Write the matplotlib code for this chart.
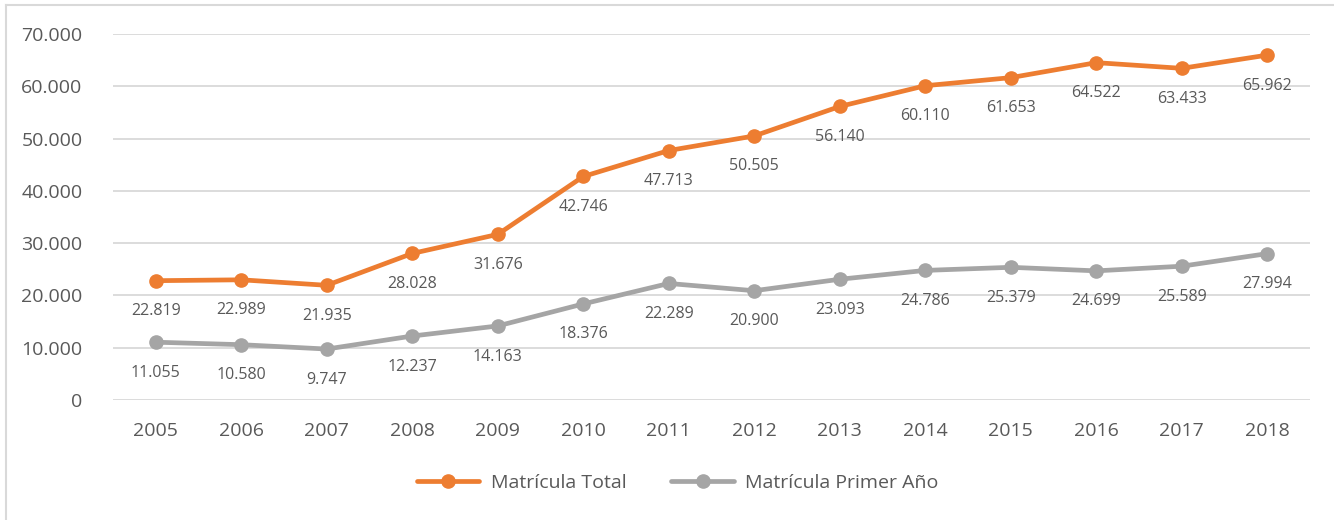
import matplotlib.pyplot as plt
from matplotlib.lines import Line2D
from matplotlib.ticker import FuncFormatter

years = ['2005', '2006', '2007', '2008', '2009', '2010', '2011',
         '2012', '2013', '2014', '2015', '2016', '2017', '2018']
total = [22819, 22989, 21935, 28028, 31676, 42746, 47713,
         50505, 56140, 60110, 61653, 64522, 63433, 65962]
primer = [11055, 10580, 9747, 12237, 14163, 18376, 22289,
          20900, 23093, 24786, 25379, 24699, 25589, 27994]
y_ticks = [0, 10000, 20000, 30000, 40000, 50000, 60000, 70000]

orange = '#ED7D31'
gray = '#A5A5A5'
txt = '#595959'

plt.rcParams['font.family'] = ['Open Sans', 'DejaVu Sans']

def fmt(v):
    return f'{int(v):,}'.replace(',', '.')

fig = plt.figure(figsize=(13.34, 5.2), dpi=100)
ax = fig.add_axes([113 / 1334, 1 - 400 / 520, (1310 - 113) / 1334, (400 - 34) / 520])

x = list(range(len(years)))
ax.plot(x, total, color=orange, lw=3.4, marker='o', ms=9.5, label='Matrícula Total',
        solid_capstyle='round')
ax.plot(x, primer, color=gray, lw=3.4, marker='o', ms=9.5, label='Matrícula Primer Año',
        solid_capstyle='round')

for xi, v in zip(x, total):
    ax.annotate(fmt(v), (xi, v), xytext=(0, -22), textcoords='offset points',
                ha='center', va='center', fontsize=11.5, color=txt)
for xi, v in zip(x, primer):
    ax.annotate(fmt(v), (xi, v), xytext=(0, -22), textcoords='offset points',
                ha='center', va='center', fontsize=11.5, color=txt)

ax.set_xlim(-0.5, len(years) - 0.5)
ax.set_ylim(0, 70000)
ax.set_yticks(y_ticks)
ax.yaxis.set_major_formatter(FuncFormatter(lambda v, p: fmt(v)))
ax.set_xticks(x)
ax.set_xticklabels(years)
ax.tick_params(axis='both', length=0, labelsize=14, colors=txt)
ax.tick_params(axis='x', pad=16)
ax.tick_params(axis='y', pad=22)
ax.grid(axis='y', color='#D9D9D9', lw=1.3)
ax.set_axisbelow(True)
for s in ax.spines.values():
    s.set_visible(False)

ax.legend(loc='center', bbox_to_anchor=(0.472, -0.227), ncol=2, frameon=False,
          fontsize=14, labelcolor=txt, handlelength=3.2, columnspacing=2.3,
          handletextpad=0.6)

# chart frame (partially visible)
fig.add_artist(Line2D([5.5 / 1334, 5.5 / 1334], [0, 1 - 4.5 / 520],
                      transform=fig.transFigure, color='#D9D9D9', lw=1.5))
fig.add_artist(Line2D([5.5 / 1334, 1], [1 - 4.5 / 520, 1 - 4.5 / 520],
                      transform=fig.transFigure, color='#D9D9D9', lw=1.5))

fig.savefig('out.png', dpi=100)
